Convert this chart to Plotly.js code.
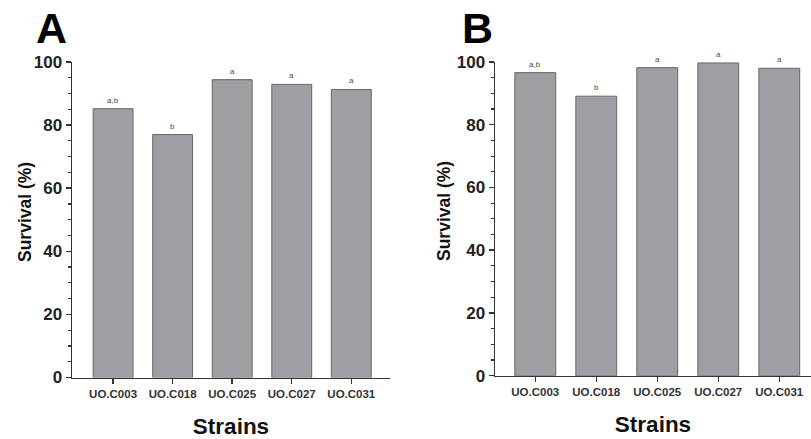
<!DOCTYPE html>
<html>
<head>
<meta charset="utf-8">
<script src="https://cdn.plot.ly/plotly-3.0.1.min.js"></script>
<style>html,body{margin:0;padding:0;background:#fff}#chart{width:811px;height:439px}</style>
</head>
<body>
<div id="chart"></div>
<script>
const strains = ["UO.C003", "UO.C018", "UO.C025", "UO.C027", "UO.C031"];
const survivalA = [85.2, 77.0, 94.4, 92.9, 91.3];
const survivalB = [96.6, 89.1, 98.2, 99.7, 98.0];
const lettersA = ["a,b", "b", "a", "a", "a"];
const lettersB = ["a,b", "b", "a", "a", "a"];
const panelLabels = ["A", "B"];
const yTitle = "Survival (%)";
const xTitle = "Strains";

const FONT = "Liberation Sans, Arial, sans-serif";
const barColor = "#9e9ea3";
const barLine = "#66666a";

const traces = [
  {type: "bar", x: strains, y: survivalA, xaxis: "x", yaxis: "y",
   marker: {color: barColor, line: {color: barLine, width: 1}}, showlegend: false, hoverinfo: "x+y"},
  {type: "bar", x: strains, y: survivalB, xaxis: "x2", yaxis: "y2",
   marker: {color: barColor, line: {color: barLine, width: 1}}, showlegend: false, hoverinfo: "x+y"}
];

const annotations = [];
strains.forEach((s, i) => {
  annotations.push({x: s, y: survivalA[i], xref: "x", yref: "y", text: lettersA[i], showarrow: false,
    yanchor: "bottom", yshift: 2, font: {family: FONT, size: 8, color: "#4a4a4a"}});
  annotations.push({x: s, y: survivalB[i], xref: "x2", yref: "y2", text: lettersB[i], showarrow: false,
    yanchor: "bottom", yshift: 2, font: {family: FONT, size: 8, color: "#4a4a4a"}});
});
annotations.push({x: 51.5/811, y: 1 - 28/439, xref: "paper", yref: "paper", text: "<b>" + panelLabels[0] + "</b>",
  showarrow: false, xanchor: "center", yanchor: "middle", font: {family: FONT, size: 43, color: "#000"}});
annotations.push({x: 477/811, y: 1 - 28/439, xref: "paper", yref: "paper", text: "<b>" + panelLabels[1] + "</b>",
  showarrow: false, xanchor: "center", yanchor: "middle", font: {family: FONT, size: 43, color: "#000"}});
// y-axis titles
annotations.push({x: 25/811, y: 1 - 212/439, xref: "paper", yref: "paper", text: "<b>" + yTitle + "</b>",
  textangle: -90, showarrow: false, xanchor: "center", yanchor: "middle", font: {family: FONT, size: 17.5, color: "#111"}});
annotations.push({x: 444/811, y: 1 - 211/439, xref: "paper", yref: "paper", text: "<b>" + yTitle + "</b>",
  textangle: -90, showarrow: false, xanchor: "center", yanchor: "middle", font: {family: FONT, size: 17.5, color: "#111"}});

function xAxis(domain, range) {
  return {
    domain: domain, range: range, type: "category",
    showline: true, linecolor: "#333", linewidth: 1.5, showgrid: false, zeroline: false,
    ticks: "outside", ticklen: 5, tickwidth: 1.5, tickcolor: "#333",
    tickfont: {family: FONT, size: 11.5, color: "#333", weight: "bold"},
    title: {text: "<b>" + xTitle + "</b>", font: {family: FONT, size: 22.5, color: "#111"}, standoff: 19},
    fixedrange: true
  };
}
function yAxis(domain, anchor) {
  return {
    domain: domain, range: [0, 100], anchor: anchor,
    showline: true, linecolor: "#333", linewidth: 1.5, showgrid: false, zeroline: false,
    tickmode: "linear", tick0: 0, dtick: 20,
    ticks: "outside", ticklen: 5, tickwidth: 1.5, tickcolor: "#333",
    minor: {dtick: 5, ticks: "outside", ticklen: 3, tickwidth: 1.2, tickcolor: "#333"},
    tickfont: {family: FONT, size: 17, color: "#222", weight: "bold"},
    fixedrange: true
  };
}

const layout = {
  width: 811, height: 439,
  margin: {l: 0, r: 0, t: 0, b: 0},
  paper_bgcolor: "#fff", plot_bgcolor: "#fff",
  bargap: 0.33,
  xaxis: xAxis([72/811, 390/811], [-0.69, 4.65]),
  yaxis: yAxis([(439-377.5)/439, (439-62)/439], "x"),
  xaxis2: Object.assign(xAxis([495/811, 1.0], [-0.66, 4.52]), {anchor: "y2"}),
  yaxis2: yAxis([(439-375.7)/439, (439-62)/439], "x2"),
  annotations: annotations
};
layout.xaxis.anchor = "y";

Plotly.newPlot("chart", traces, layout, {displayModeBar: false, staticPlot: true});
</script>
</body>
</html>
